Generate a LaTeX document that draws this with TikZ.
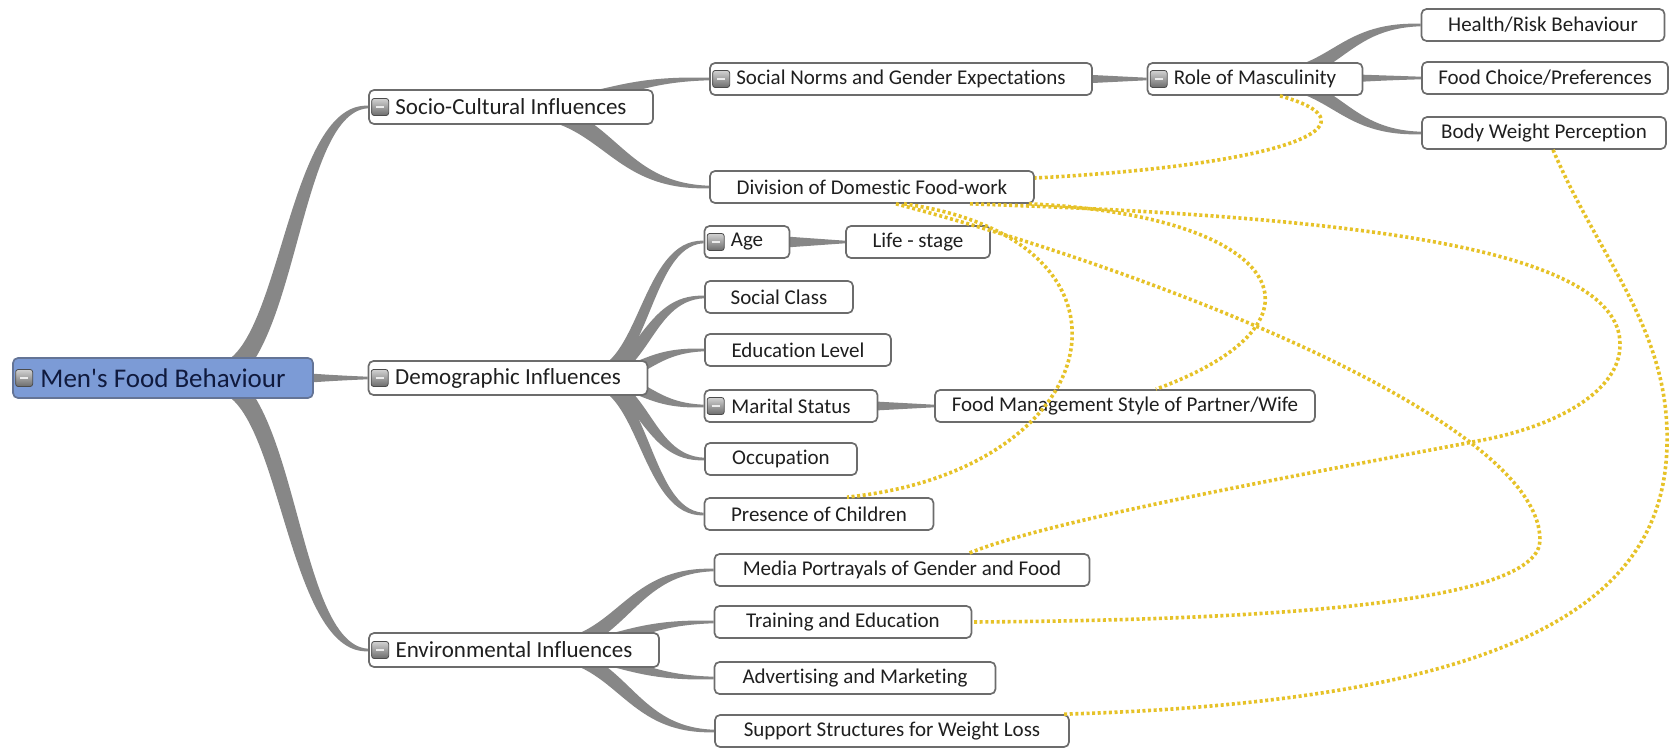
\documentclass[tikz,border=0pt]{standalone}
\usepackage{fontspec}
\setmainfont{Carlito}[Ligatures={NoCommon,NoDiscretionary,NoRare}]
\usetikzlibrary{calc,backgrounds}

\definecolor{branchgray}{RGB}{135,135,135}
\definecolor{boxline}{RGB}{108,108,108}
\definecolor{rootfill}{RGB}{124,155,214}
\definecolor{rootline}{RGB}{100,116,150}
\definecolor{roottext}{RGB}{16,26,62}
\definecolor{linkgold}{RGB}{230,194,40}

% tapered mind-map branch: [base width]{from}{to}
\newcommand{\branch}[3][16]{%
  \fill[branch, y=1pt] let \p1=(#2), \p2=(#3),
    \n1={\x1}, \n2={\y1}, \n3={\x2}, \n4={\y2},
    \n5={(\x1+\x2)/2}, \n6={#1/2},
    \n7={ifthenelse(\y2>\y1+1pt,1,ifthenelse(\y2<\y1-1pt,-1,0))},
    \n8={0.35*#1}, \n9={0.15*#1+1.3} in
    ({\n1},{\n2+\n6}) .. controls ({\n5-(\n7)*\n8},{\n2+\n8}) and ({\n5-(\n7)*\n9},{\n4+\n9}) .. ({\n3},{\n4+1.3})
    -- ({\n3},{\n4-1.3}) .. controls ({\n5+(\n7)*\n9},{\n4-\n9}) and ({\n5+(\n7)*\n8},{\n2-\n8}) .. ({\n1},{\n2-\n6}) -- cycle;}

\tikzset{
  box/.style={draw=boxline, line width=1.7pt, fill=white, rounded corners=5pt,
    inner sep=0pt, text=black!88},
  leaf/.style={box, minimum width=#1, minimum height=32pt, font=\fontsize{21}{24}\selectfont},
  topic/.style={box, minimum width=#1, minimum height=34pt, font=\fontsize{23}{26}\selectfont},
  root/.style={box, draw=rootline, fill=rootfill, text=roottext, minimum width=#1,
    minimum height=40pt, font=\fontsize{27}{30}\selectfont},
  toggle/.style={draw=gray!60!black, line width=0.8pt, rounded corners=2.5pt,
    minimum size=17pt, inner sep=0pt, top color=gray!35, bottom color=gray!85!black},
  link/.style={draw=linkgold, line width=3.6pt, dash pattern=on 3pt off 2.6pt},
  branch/.style={fill=branchgray}
}

\begin{document}
\begin{tikzpicture}[x=1pt, y=-1pt]
  \useasboundingbox (0,0) rectangle (1679,749);

  % central topic and main topics
  \node[root=300] (main) at (163,378) {Men\textquotesingle s Food Behaviour};
  \node[topic=284] (socio) at (511,107) {Socio-Cultural Influences};
  \node[topic=279] (demo) at (508,378) {Demographic Influences};
  \node[topic=290] (env) at (514,650) {Environmental Influences};

  % subtopics
  \node[leaf=382] (norms) at (901,79) {Social Norms and Gender Expectations};
  \node[leaf=324] (division) at (872,187) {Division of Domestic Food-work};
  \node[leaf=215] (role) at (1255,79) {Role of Masculinity};
  \node[leaf=243] (health) at (1543,25) {Health/Risk Behaviour};
  \node[leaf=246] (choice) at (1545,78) {Food Choice/Preferences};
  \node[leaf=244] (bodyw) at (1544,133) {Body Weight Perception};
  \node[leaf=85] (age) at (747,242) {Age};
  \node[leaf=144] (stage) at (918,242) {Life - stage};
  \node[leaf=148] (class) at (779,297) {Social Class};
  \node[leaf=186] (edu) at (798,350) {Education Level};
  \node[leaf=173] (marital) at (791,406) {Marital Status};
  \node[leaf=380] (foodmgmt) at (1125,406) {Food Management Style of Partner/Wife};
  \node[leaf=152] (occ) at (781,459) {Occupation};
  \node[leaf=229] (children) at (819,514) {Presence of Children};
  \node[leaf=375] (media) at (902,570) {Media Portrayals of Gender and Food};
  \node[leaf=257] (training) at (843,622) {Training and Education};
  \node[leaf=281] (advert) at (855,678) {Advertising and Marketing};
  \node[leaf=354] (support) at (892,731) {Support Structures for Weight Loss};

  % collapse buttons
  \foreach \t in {main,socio,demo,env,norms,role,age,marital}
    {\node[toggle] (\t-icon) at ([xshift=12pt]\t.west) {\textcolor{gray!15}{\rule{8pt}{2pt}}};}

  \coordinate (mainhub) at ([xshift=48pt]main.center);
  \coordinate (demohub) at ([xshift=78pt]demo.center);
  \coordinate (envhub) at ([xshift=20pt]env.center);

  \begin{scope}[on background layer]
    \branch[26]{mainhub}{socio.west}
    \branch[22]{mainhub}{demo.west}
    \branch[26]{mainhub}{env.west}
    \branch[18]{socio.center}{norms.west}
    \branch[20]{socio.center}{division.west}
    \branch[12]{[xshift=-40pt]norms.east}{role.west}
    \branch[16]{role.center}{health.west}
    \branch[16]{role.center}{choice.west}
    \branch[16]{role.center}{bodyw.west}
    \foreach \t in {age,class,edu,marital,occ,children}
      {\branch[16]{demohub}{\t.west}}
    \branch[16]{[xshift=-40pt]age.east}{stage.west}
    \branch[13]{[xshift=-40pt]marital.east}{foodmgmt.west}
    \foreach \t in {media,training,advert,support}
      {\branch[17]{envhub}{\t.west}}
  \end{scope}

  % relationships
  \draw[link] ([xshift=25pt]role.south) .. controls (1385,125) and (1285,165) .. ([yshift=9pt]division.east);
  \draw[link] ([xshift=9pt]bodyw.south) .. controls (1600,260) and (1670,330) .. (1667,445)
    .. controls (1664,580) and (1560,700) .. ([xshift=-6pt]support.north east);
  \draw[link] ([xshift=98pt]division.south) .. controls (1300,215) and (1622,240) .. (1620,345)
    .. controls (1620,390) and (1560,425) .. (1483,440)
    .. controls (1300,475) and (1050,520) .. ([xshift=67pt]media.north);
  \draw[link] ([xshift=32pt]division.south) .. controls (1160,240) and (1110,470) .. ([xshift=28pt]children.north);
  \draw[link] ([xshift=-6pt]division.south east) .. controls (1280,215) and (1345,320) .. ([xshift=31pt]foodmgmt.north);
  \draw[link] ([xshift=24pt]division.south) .. controls (1150,270) and (1540,420) .. (1540,540)
    .. controls (1540,600) and (1300,620) .. (training.east);
\end{tikzpicture}
\end{document}
